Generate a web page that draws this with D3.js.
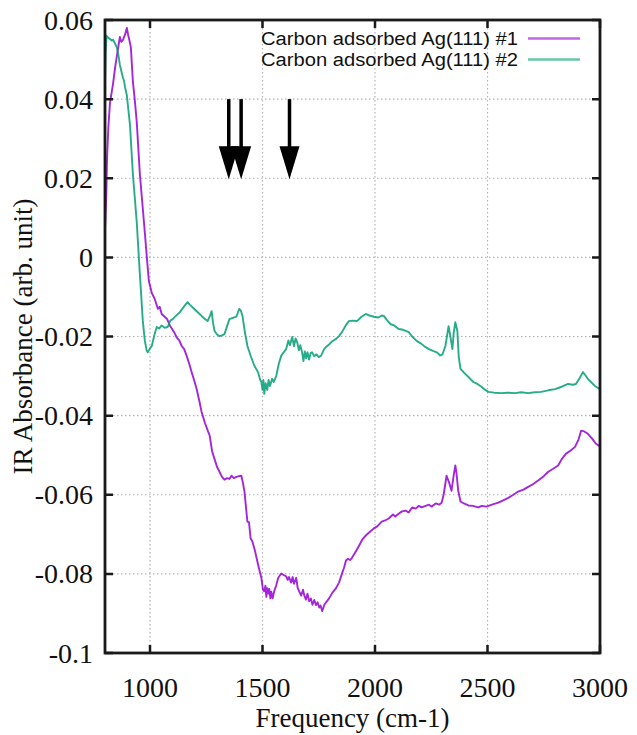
<!DOCTYPE html>
<html>
<head>
<meta charset="utf-8">
<script src="https://cdn.jsdelivr.net/npm/d3@7"></script>
<style>
  body { margin: 0; background: #fff; }
  svg { display: block; }
</style>
</head>
<body>
<svg id="canvas" width="637" height="735"></svg>
<script>
// spectrum #1 (purple)
let freq1 = [800,806,809,815,822,836,845,853,866,872,880,890,897,903,910,915,924,932,941,955,964,973,986,995,1008,1021,1035,1043,1052,1065,1075,1088,1097,1110,1119,1130,1141,1152,1163,1175,1185,1196,1207,1220,1229,1245,1258,1265,1276,1287,1298,1309,1320,1331,1342,1353,1362,1373,1384,1395,1406,1413,1420,1428,1433,1440,1447,1455,1466,1477,1486,1495,1502,1508,1513,1517,1521,1526,1530,1535,1539,1545,1552,1561,1570,1583,1594,1605,1612,1618,1627,1634,1640,1650,1656,1663,1672,1680,1685,1693,1700,1707,1715,1722,1730,1738,1745,1752,1758,1765,1775,1785,1796,1810,1827,1840,1853,1862,1871,1880,1889,1897,1910,1928,1945,1959,1975,1995,2010,2030,2045,2061,2080,2090,2105,2120,2136,2150,2165,2181,2195,2207,2225,2240,2251,2270,2285,2296,2305,2318,2330,2340,2350,2357,2362,2370,2380,2395,2415,2435,2459,2475,2495,2520,2548,2570,2592,2615,2636,2660,2681,2700,2725,2750,2770,2790,2814,2830,2849,2870,2889,2905,2916,2930,2946,2965,2982,3000];
let abs1 = [0.007,0.016,0.025,0.033,0.039,0.044,0.048,0.051,0.0557,0.0545,0.055,0.0565,0.058,0.0562,0.0545,0.053,0.0444,0.040,0.0343,0.021,0.015,0.009,0.000,-0.006,-0.009,-0.0105,-0.013,-0.0125,-0.0143,-0.015,-0.0155,-0.0172,-0.018,-0.0192,-0.0203,-0.021,-0.0224,-0.0232,-0.0249,-0.027,-0.029,-0.031,-0.0332,-0.0365,-0.039,-0.042,-0.044,-0.045,-0.049,-0.051,-0.053,-0.0542,-0.0555,-0.0562,-0.0558,-0.056,-0.0552,-0.0558,-0.0555,-0.0553,-0.0552,-0.057,-0.0592,-0.064,-0.0668,-0.067,-0.071,-0.0718,-0.074,-0.0768,-0.079,-0.081,-0.084,-0.0844,-0.083,-0.0858,-0.0836,-0.085,-0.0838,-0.0862,-0.0845,-0.0862,-0.0844,-0.0829,-0.081,-0.0799,-0.0803,-0.0806,-0.0815,-0.0808,-0.0822,-0.0808,-0.0825,-0.081,-0.0835,-0.0844,-0.0855,-0.084,-0.0853,-0.0865,-0.085,-0.0869,-0.0862,-0.0878,-0.0866,-0.0879,-0.0872,-0.0885,-0.088,-0.0894,-0.0878,-0.087,-0.0862,-0.0848,-0.0836,-0.0822,-0.080,-0.0785,-0.0766,-0.0762,-0.0765,-0.076,-0.0748,-0.073,-0.0712,-0.0703,-0.0695,-0.0685,-0.068,-0.0668,-0.0665,-0.066,-0.065,-0.0655,-0.0648,-0.0642,-0.064,-0.0645,-0.0632,-0.0635,-0.0628,-0.0632,-0.0628,-0.0625,-0.063,-0.0622,-0.0625,-0.062,-0.060,-0.0552,-0.057,-0.059,-0.055,-0.0526,-0.0545,-0.059,-0.0617,-0.0622,-0.0627,-0.0628,-0.0632,-0.0628,-0.063,-0.0625,-0.062,-0.0614,-0.0608,-0.060,-0.0592,-0.0587,-0.058,-0.0574,-0.0564,-0.0553,-0.0542,-0.0535,-0.0526,-0.051,-0.0496,-0.0488,-0.0479,-0.046,-0.0438,-0.044,-0.0446,-0.0458,-0.0471,-0.0478];

// spectrum #2 (green)
let freq2 = [800,803,807,815,822,830,836,845,853,860,866,873,880,885,889,897,911,924,941,955,968,977,985,990,1000,1008,1020,1030,1040,1052,1065,1079,1090,1101,1115,1132,1150,1167,1178,1189,1205,1218,1229,1243,1256,1265,1274,1280,1287,1298,1309,1320,1331,1342,1353,1368,1384,1390,1397,1404,1411,1422,1433,1448,1464,1480,1490,1495,1500,1504,1508,1514,1521,1527,1533,1543,1550,1561,1572,1583,1594,1605,1615,1622,1632,1640,1647,1654,1662,1668,1676,1682,1688,1694,1700,1707,1714,1720,1730,1740,1750,1760,1774,1785,1796,1810,1827,1840,1853,1870,1884,1900,1920,1940,1959,1975,1995,2015,2030,2039,2055,2070,2085,2105,2125,2150,2165,2185,2205,2225,2240,2260,2275,2290,2300,2313,2327,2335,2344,2350,2357,2366,2372,2380,2402,2420,2437,2455,2473,2490,2504,2530,2561,2590,2623,2650,2681,2710,2738,2770,2800,2830,2858,2880,2893,2910,2924,2935,2946,2960,2977,3000];
let abs2 = [0.044,0.052,0.056,0.0555,0.0552,0.0548,0.055,0.054,0.053,0.051,0.0487,0.047,0.0454,0.0445,0.043,0.041,0.0335,0.021,0.009,-0.0043,-0.016,-0.021,-0.0235,-0.024,-0.023,-0.0224,-0.0195,-0.0176,-0.018,-0.0172,-0.0178,-0.0176,-0.016,-0.0156,-0.0148,-0.0139,-0.0125,-0.0113,-0.012,-0.0126,-0.0135,-0.0142,-0.0148,-0.0155,-0.0161,-0.015,-0.0136,-0.0165,-0.0186,-0.0195,-0.0199,-0.0197,-0.0194,-0.0175,-0.0156,-0.0153,-0.015,-0.014,-0.013,-0.0135,-0.0148,-0.019,-0.0224,-0.025,-0.0274,-0.029,-0.031,-0.0315,-0.0335,-0.031,-0.0345,-0.0318,-0.0335,-0.031,-0.0325,-0.0307,-0.0315,-0.030,-0.027,-0.0249,-0.024,-0.0232,-0.021,-0.0222,-0.0201,-0.0225,-0.0205,-0.0214,-0.0235,-0.0222,-0.024,-0.0262,-0.0238,-0.0255,-0.024,-0.0258,-0.0242,-0.024,-0.025,-0.0245,-0.0252,-0.0249,-0.0232,-0.0225,-0.022,-0.0212,-0.0206,-0.0199,-0.0189,-0.0172,-0.0161,-0.016,-0.0161,-0.015,-0.0143,-0.0147,-0.015,-0.0152,-0.0147,-0.0148,-0.016,-0.0169,-0.0172,-0.0181,-0.0183,-0.0189,-0.02,-0.0211,-0.0218,-0.0227,-0.0232,-0.0237,-0.024,-0.0248,-0.0245,-0.0224,-0.0174,-0.02,-0.0232,-0.019,-0.0164,-0.0186,-0.025,-0.0282,-0.0295,-0.0305,-0.0315,-0.032,-0.0327,-0.0335,-0.034,-0.0342,-0.0343,-0.0342,-0.0343,-0.0341,-0.0343,-0.0341,-0.034,-0.0336,-0.0333,-0.0327,-0.032,-0.0322,-0.032,-0.0305,-0.029,-0.0298,-0.0307,-0.0315,-0.0325,-0.0333];

let seriesNames = ["Carbon adsorbed Ag(111) #1", "Carbon adsorbed Ag(111) #2"];
let seriesColors = ["#9400d3", "#009e73"];

let xTicks = [1000, 1500, 2000, 2500, 3000];
let yTicks = [0.06, 0.04, 0.02, 0, -0.02, -0.04, -0.06, -0.08, -0.1];

// arrows marking the bands
let arrowFreq = [1350, 1405, 1620];
let arrowFrom = 0.04;
let arrowTo = 0.02;

let margin = { left: 105, right: 37, top: 20, bottom: 82 };
let width = 637, height = 735;

let canvas = d3.select("#canvas");

let xScale = d3.scaleLinear().domain([800, 3000]).range([margin.left, width - margin.right]);
let yScale = d3.scaleLinear().domain([-0.1, 0.06]).range([height - margin.bottom, margin.top]);

let x0 = xScale.range()[0], x1 = xScale.range()[1];
let y0 = yScale.range()[1], y1 = yScale.range()[0];

// grid
let grid = canvas.append("g")
    .attr("stroke", "#b4b4b4")
    .attr("stroke-width", 1.2)
    .attr("stroke-dasharray", "1.5,2.5");

grid.selectAll(".gx")
    .data(xTicks.filter(d => d < 3000))
    .enter()
    .append("line")
    .attr("x1", d => xScale(d)).attr("x2", d => xScale(d))
    .attr("y1", y0).attr("y2", y1);

grid.selectAll(".gy")
    .data(yTicks.filter(d => d > -0.1 && d < 0.06))
    .enter()
    .append("line")
    .attr("x1", x0).attr("x2", x1)
    .attr("y1", d => yScale(d)).attr("y2", d => yScale(d));

// data lines
canvas.append("clipPath").attr("id", "clip")
    .append("rect")
    .attr("x", x0).attr("y", y0)
    .attr("width", x1 - x0).attr("height", y1 - y0);

let line = d3.line()
    .x(d => xScale(d[0]))
    .y(d => yScale(d[1]));

let series = [
    d3.zip(freq1, abs1),
    d3.zip(freq2, abs2)
];

canvas.append("g")
    .attr("clip-path", "url(#clip)")
    .selectAll("path")
    .data(series)
    .enter()
    .append("path")
    .attr("d", line)
    .attr("fill", "none")
    .attr("stroke", (d, i) => seriesColors[i])
    .attr("stroke-width", 1.9)
    .attr("stroke-opacity", 0.85)
    .attr("stroke-linejoin", "round");

// arrows
let arrows = canvas.append("g");
arrows.selectAll("line")
    .data(arrowFreq)
    .enter()
    .append("line")
    .attr("x1", d => xScale(d)).attr("x2", d => xScale(d))
    .attr("y1", yScale(arrowFrom))
    .attr("y2", yScale(arrowTo) - 25)
    .attr("stroke", "#000")
    .attr("stroke-width", 3.5);

arrows.selectAll("path")
    .data(arrowFreq)
    .enter()
    .append("path")
    .attr("d", d => {
        let ax = xScale(d), ay = yScale(arrowTo);
        return `M${ax - 10},${ay - 32} L${ax + 10},${ay - 32} L${ax},${ay + 1} Z`;
    })
    .attr("fill", "#000");

// frame + ticks
let tickLen = 8;
let ticks = canvas.append("g").attr("stroke", "#1a1a1a").attr("stroke-width", 2.5);

ticks.selectAll(".tb")
    .data(xTicks)
    .enter()
    .append("path")
    .attr("d", d => `M${xScale(d)},${y1} v${-tickLen} M${xScale(d)},${y0} v${tickLen}`);

ticks.selectAll(".tl")
    .data(yTicks)
    .enter()
    .append("path")
    .attr("d", d => `M${x0},${yScale(d)} h${tickLen} M${x1},${yScale(d)} h${-tickLen}`);

canvas.append("rect")
    .attr("x", x0).attr("y", y0)
    .attr("width", x1 - x0).attr("height", y1 - y0)
    .attr("fill", "none")
    .attr("stroke", "#1a1a1a")
    .attr("stroke-width", 2.8);

// tick labels
let serif = "'Liberation Serif', 'Times New Roman', serif";

canvas.append("g")
    .selectAll("text")
    .data(xTicks)
    .enter()
    .append("text")
    .attr("x", d => xScale(d))
    .attr("y", 697)
    .attr("text-anchor", "middle")
    .attr("font-family", serif)
    .attr("font-size", 28)
    .attr("fill", "#111")
    .text(d => d);

canvas.append("g")
    .selectAll("text")
    .data(yTicks)
    .enter()
    .append("text")
    .attr("x", 93)
    .attr("y", d => yScale(d))
    .attr("dy", "0.34em")
    .attr("text-anchor", "end")
    .attr("font-family", serif)
    .attr("font-size", 28)
    .attr("fill", "#111")
    .text(d => d === 0 ? "0" : String(+d.toFixed(2)));

// axis titles
canvas.append("text")
    .attr("x", (x0 + x1) / 2)
    .attr("y", 727)
    .attr("text-anchor", "middle")
    .attr("font-family", serif)
    .attr("font-size", 27)
    .attr("fill", "#111")
    .text("Frequency (cm-1)");

canvas.append("text")
    .attr("transform", `translate(32,${(y0 + y1) / 2}) rotate(-90)`)
    .attr("text-anchor", "middle")
    .attr("font-family", serif)
    .attr("font-size", 27)
    .attr("fill", "#111")
    .text("IR Absorbance (arb. unit)");

// legend
let legend = canvas.append("g");
legend.selectAll("text")
    .data(seriesNames)
    .enter()
    .append("text")
    .attr("x", 518)
    .attr("y", (d, i) => 45 + i * 21)
    .attr("text-anchor", "end")
    .attr("textLength", 257)
    .attr("lengthAdjust", "spacingAndGlyphs")
    .attr("font-family", "'Liberation Sans', Arial, sans-serif")
    .attr("font-size", 18)
    .attr("fill", "#111")
    .text(d => d);

legend.selectAll("line")
    .data(seriesNames)
    .enter()
    .append("line")
    .attr("x1", 528).attr("x2", 580)
    .attr("y1", (d, i) => 38.5 + i * 21)
    .attr("y2", (d, i) => 38.5 + i * 21)
    .attr("stroke", (d, i) => seriesColors[i])
    .attr("stroke-width", 2.5)
    .attr("stroke-opacity", 0.6);
</script>
</body>
</html>
